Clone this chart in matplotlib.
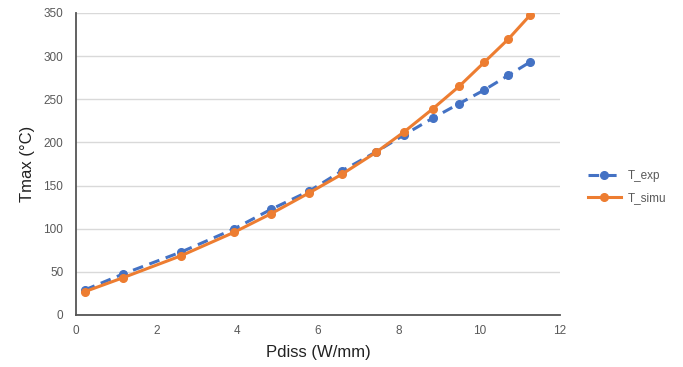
import matplotlib
matplotlib.use("Agg")
import matplotlib.pyplot as plt

pdiss = [0.22, 1.17, 2.61, 3.92, 4.84, 5.79, 6.59, 7.44, 8.13, 8.84, 9.50, 10.12, 10.72, 11.26]
t_exp = [29, 47.5, 73, 99.7, 122.5, 143.7, 166.9, 189, 208.6, 228, 244.9, 260.7, 277.8, 293.2]
t_simu = [27, 43.2, 68.7, 95.8, 117.4, 141.7, 163, 188.5, 212, 238.7, 265, 292.8, 319.8, 347.6]
xticks = [0, 2, 4, 6, 8, 10, 12]
yticks = [0, 50, 100, 150, 200, 250, 300, 350]

plt.rcParams['font.family'] = ['Liberation Sans', 'DejaVu Sans']

fig = plt.figure(figsize=(6.83, 3.67), dpi=100)
ax = fig.add_axes([0.111, 0.1417, 0.709, 0.823])

blue = '#4472C4'
orange = '#ED7D31'
ax.plot(pdiss, t_exp, color=blue, lw=2.2, ls=(0, (3.5, 2.2)), marker='o', ms=5.5,
        label='T_exp', zorder=3)
ax.plot(pdiss, t_simu, color=orange, lw=2.2, marker='o', ms=5.5, label='T_simu', zorder=4)

ax.set_xlim(0, 12)
ax.set_ylim(0, 350)
ax.set_xticks(xticks)
ax.set_yticks(yticks)
ax.grid(axis='y', color='#D9D9D9', lw=1)
ax.set_axisbelow(True)
for s in ['top', 'right']:
    ax.spines[s].set_visible(False)
for s in ['left', 'bottom']:
    ax.spines[s].set_color('#555555')
    ax.spines[s].set_linewidth(1.3)
ax.tick_params(length=0, labelsize=8.5, labelcolor='#595959')
ax.tick_params(axis='y', pad=9)
ax.tick_params(axis='x', pad=7)

ax.set_xlabel('Pdiss (W/mm)', fontsize=12, color='#222222', labelpad=6)
ax.set_ylabel('Tmax (°C)', fontsize=12, color='#222222', labelpad=6)

leg = fig.legend(loc='center left', bbox_to_anchor=(0.845, 0.49), frameon=False,
                 fontsize=8.5, handlelength=2.8, labelspacing=0.9, handletextpad=0.6)
for t in leg.get_texts():
    t.set_color('#595959')

fig.savefig('out.png', dpi=100)
